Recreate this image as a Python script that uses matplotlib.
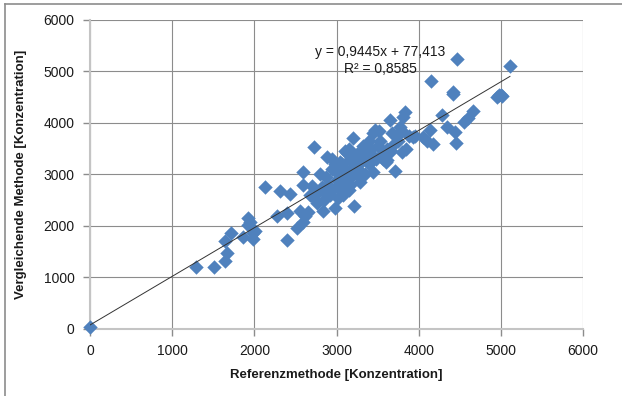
import numpy as np
import matplotlib
matplotlib.use("Agg")
import matplotlib.pyplot as plt
from matplotlib.lines import Line2D

plt.rcParams.update({
    "font.family": ["Liberation Sans", "DejaVu Sans"],
    "font.size": 8,
})

# Messwerte: Referenzmethode (x) gegen vergleichende Methode (y)
ref_x = [
    0, 1286, 1513, 1647, 1663, 1647, 1712, 1862, 1927, 1927, 1988, 1980, 2010, 1950,
    2130, 2312, 2434, 2272, 2393, 2393, 2515, 2588, 2655, 2588, 2588, 2560, 2620,
    2714, 2730, 2700, 2760, 2832, 2850, 2880, 2870, 2900, 2920, 2950, 2982, 2950,
    2980, 3000, 3020, 3050, 3060, 3080, 3100, 3100, 3120, 3124, 3150, 3150, 3170,
    3180, 3200, 3213, 3204, 3250, 3250, 3280, 3300, 3320, 3347, 3350, 3380, 3400,
    3400, 3448, 3468, 3450, 3480, 3500, 3520, 3550, 3600, 3610, 3620, 3651, 3680,
    3712, 3700, 3750, 3773, 3793, 3805, 3834, 3800, 3850, 3880, 3935, 3950, 4057,
    4100, 4138, 4170, 4146, 4280, 4341, 4413, 4420, 4442, 4454, 4462, 4551, 4600,
    4665, 4957, 4980, 4998, 5020, 5111,
    2800, 2860, 2940, 3010, 3040, 3090, 3140, 3160, 3230, 3260, 3290, 3310, 3360,
    3420, 3440, 3530, 3570, 3660, 3720, 2680, 2760, 2820, 2990, 3070, 3190,
]
cmp_y = [
    30, 1198, 1198, 1320, 1482, 1715, 1858, 1781, 2150, 2020, 1858, 1742, 1900, 2080,
    2750, 2686, 2620, 2194, 2259, 1728, 1955, 2084, 2278, 3055, 2797, 2300, 2200,
    2569, 3541, 2780, 2650, 2292, 2500, 3346, 2950, 2800, 2600, 2700, 2356, 3300,
    3200, 2900, 2550, 3000, 2750, 2600, 3450, 3100, 2850, 3411, 2700, 3500, 3300,
    2950, 3150, 2389, 3703, 3400, 3000, 2850, 3250, 3550, 3541, 3000, 3450, 3650,
    3200, 3800, 3865, 3050, 3300, 3550, 3850, 3400, 3250, 3282, 3500, 4059, 3800,
    3074, 3600, 3650, 3929, 3443, 4123, 4220, 3850, 3500, 3750, 3735, 3750, 3735,
    3650, 3865, 3587, 4816, 4156, 3929, 4564, 4600, 3832, 3606, 5238, 4026, 4100,
    4234, 4511, 4550, 4545, 4520, 5107,
    3000, 2650, 3100, 2750, 3250, 2950, 3050, 2800, 3300, 3100, 3000, 3450, 3350,
    3500, 3350, 3650, 3300, 3450, 3750, 2600, 2450, 2750, 3050, 3200, 3000,
]

# lineare Trendlinie (Excel)
slope = 0.9445
intercept = 77.413
r2 = 0.8585

x_ticks = [0, 1000, 2000, 3000, 4000, 5000, 6000]
y_ticks = [0, 1000, 2000, 3000, 4000, 5000, 6000]

fig = plt.figure(figsize=(6.22, 3.96), dpi=100)
ax = fig.add_axes([0.1447, 0.1692, 0.7926, 0.7803])

grid_col = "#8c8c8c"
axis_col = "#c4c4c4"
text_col = "#1a1a1a"

ax.scatter(ref_x, cmp_y, marker="D", s=54, color="#4f81bd", linewidths=0,
           zorder=3, clip_on=False)

tx = np.array([min(ref_x), max(ref_x)])
ax.plot(tx, slope * tx + intercept, color="#333333", lw=0.7, zorder=4)

ax.text(3530, 5385, "y = 0,9445x + 77,413", ha="center", va="center",
        fontsize=10, color=text_col, zorder=5)
ax.text(3530, 5045, f"R² = {r2:.4f}".replace(".", ","), ha="center", va="center",
        fontsize=10, color=text_col, zorder=5)

ax.set_xlim(0, 6000)
ax.set_ylim(0, 6000)
ax.set_xticks(x_ticks)
ax.set_yticks(y_ticks)
ax.tick_params(length=5, width=1, color=grid_col, labelsize=10,
               labelcolor=text_col, pad=6)
ax.grid(True, color=grid_col, lw=0.8)
ax.set_axisbelow(True)
for side in ["top", "right"]:
    ax.spines[side].set_visible(False)
for side in ["left", "bottom"]:
    ax.spines[side].set_color(axis_col)
    ax.spines[side].set_linewidth(1.5)

ax.set_xlabel("Referenzmethode [Konzentration]", fontsize=9.5,
              fontweight="bold", color=text_col, labelpad=8)
ax.set_ylabel("Vergleichende Methode [Konzentration]", fontsize=9.5,
              fontweight="bold", color=text_col, labelpad=12)

# Diagrammrahmen oben und links
fig.add_artist(Line2D([5 / 622, 5 / 622], [0, 1 - 4 / 396], color=grid_col, lw=1.2))
fig.add_artist(Line2D([5 / 622, 1], [1 - 4 / 396, 1 - 4 / 396], color=grid_col, lw=1.2))

fig.savefig("out.png", dpi=100)
